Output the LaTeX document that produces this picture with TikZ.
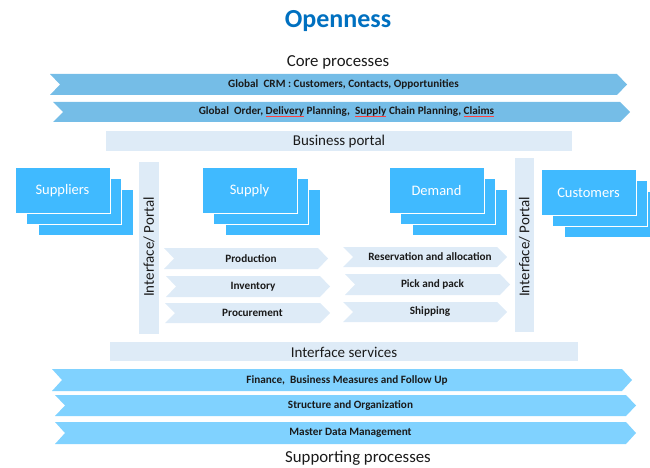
\documentclass[tikz,border=0pt]{standalone}
\usepackage{fontspec}
\setmainfont{Carlito}
\definecolor{titleblue}{HTML}{0070C0}
\definecolor{coreblue}{HTML}{75BDE7}
\definecolor{supblue}{HTML}{80D2FF}
\definecolor{boxblue}{HTML}{40BAFF}
\definecolor{lightblue}{HTML}{DEEBF7}
\definecolor{txt}{HTML}{1A1A1A}
\newcommand\squig[1]{\setbox0\hbox{#1}\rlap{\textcolor{red!75}{\rule[-1.8pt]{\wd0}{0.4pt}}}\box0\relax}
\newcommand\band[8]{%
  \fill[#7] (#2,#4) -- ({#3-#6},#4) -- (#3,{(#4+#5)/2}) -- ({#3-#6},#5) -- (#2,#5) -- ({#2+#6},{(#4+#5)/2}) -- cycle;
  \node[bandtext] (#1) at ({(#2+#3)/2+#6/2},{(#4+#5)/2}) {#8};}
\newcommand\stack[4]{%
  \fill[boxblue,draw=white,line width=0.8pt] ({#2+23},{#3+22}) rectangle +(95,46);
  \fill[boxblue,draw=white,line width=0.8pt] ({#2+11.5},{#3+11}) rectangle +(95,46);
  \fill[boxblue,draw=white,line width=0.8pt] (#2,#3) rectangle +(95,46);
  \node[boxtext] (#1) at ({#2+47.5},{#3+24}) {#4};}
\begin{document}
\begin{tikzpicture}[x=1pt,y=-1pt,
  bandtext/.style={inner sep=0pt,text=txt,font=\fontsize{11.2}{13}\selectfont\bfseries},
  boxtext/.style={inner sep=0pt,text=white,font=\fontsize{14.5}{17}\selectfont},
  heading/.style={inner sep=0pt,text=txt,font=\fontsize{16.8}{20}\selectfont},
  barlabel/.style={inner sep=0pt,text=txt,font=\fontsize{15}{18}\selectfont},
  lightbar/.style={fill=lightblue}]
\useasboundingbox (0,0) rectangle (650,468);
\clip (0,0) rectangle (650,468);
% title
\node[inner sep=0pt,text=titleblue,font=\fontsize{26}{30}\selectfont\bfseries] (title) at (338,21) {Openness};
\node[heading] (core) at (338,62) {Core processes};
% core arrows
\band{crm}{50}{627}{74}{95}{10}{coreblue}{Global\ \ CRM : Customers, Contacts, Opportunities}
\band{order}{53}{630}{102}{122}{10}{coreblue}{Global\ \ Order, \squig{Delivery} Planning,\ \ \squig{Supply} Chain Planning, \squig{Claims}}
% business portal
\fill[lightbar] (106,131) rectangle (572,151);
\node[barlabel] (bportal) at (339,141.5) {Business portal};
% interface bars
\fill[lightbar] (139,162) rectangle (159,334);
\node[barlabel,rotate=90] (ifl) at (149,247) {Interface/ Portal};
\fill[lightbar] (515,158) rectangle (534,332);
\node[barlabel,rotate=90] (ifr) at (524.5,247) {Interface/ Portal};
% stacks
\stack{suppliers}{15}{167}{Suppliers}
\stack{supply}{202}{167}{Supply}
\stack{demand}{389}{167}{Demand}
\stack{customers}{541}{169}{Customers}
% supply chevrons
\band{production}{164}{328}{248}{269}{10}{lightblue}{Production}
\band{inventory}{166}{330}{276}{297}{10}{lightblue}{Inventory}
\band{procurement}{165}{330}{303}{323}{10}{lightblue}{Procurement}
% demand chevrons
\band{reservation}{343}{507}{247}{267}{10}{lightblue}{Reservation and allocation}
\band{pick}{345}{510}{274}{295}{10}{lightblue}{Pick and pack}
\band{shipping}{343}{507}{302}{322}{10}{lightblue}{Shipping}
% interface services
\fill[lightbar] (110,342) rectangle (578,361);
\node[barlabel] (iserv) at (344,352) {Interface services};
% supporting arrows
\band{finance}{52}{632}{369}{391}{10}{supblue}{Finance,\ \ Business Measures and Follow Up}
\band{structure}{55}{636}{395}{416}{10}{supblue}{Structure and Organization}
\band{mdm}{55}{636}{422}{444}{10}{supblue}{Master Data Management}
\node[heading] (supp) at (358,458.5) {Supporting processes};
\end{tikzpicture}
\end{document}
